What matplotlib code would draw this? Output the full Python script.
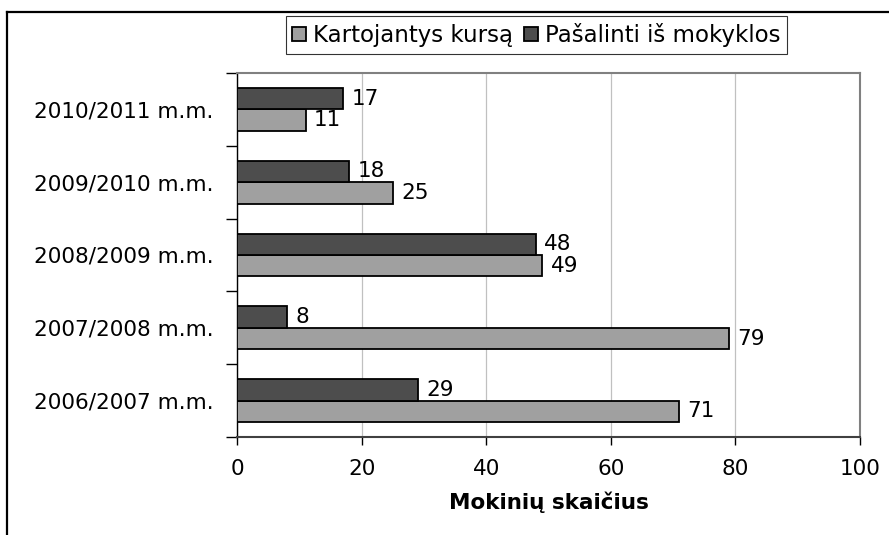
import matplotlib
matplotlib.use("Agg")
import matplotlib.pyplot as plt
from matplotlib.lines import Line2D
import numpy as np

categories = ["2006/2007 m.m.", "2007/2008 m.m.", "2008/2009 m.m.", "2009/2010 m.m.", "2010/2011 m.m."]
kartojantys = [71, 79, 49, 25, 11]
pasalinti = [29, 8, 48, 18, 17]
series_names = ["Kartojantys kursą", "Pašalinti iš mokyklos"]
xticks = [0, 20, 40, 60, 80, 100]

plt.rcParams['font.family'] = ['DejaVu Sans']
FS = 15.5

fig = plt.figure(figsize=(8.89, 5.35), dpi=100)
ax = fig.add_axes([237/889, 1-437/535, (860-237)/889, (437-73)/535])

y = np.arange(len(categories))
h = 0.295
b1 = ax.barh(y - h/2, kartojantys, height=h, color="#a0a0a0", edgecolor="black", linewidth=1.3, label=series_names[0], zorder=3)
b2 = ax.barh(y + h/2, pasalinti, height=h, color="#4d4d4d", edgecolor="black", linewidth=1.3, label=series_names[1], zorder=3)
ax.bar_label(b1, padding=6, fontsize=FS)
ax.bar_label(b2, padding=6, fontsize=FS)

ax.set_xlim(0, 100)
ax.set_ylim(-0.5, len(categories) - 0.5)
ax.set_xticks(xticks)
ax.set_xticklabels([str(t) for t in xticks], fontsize=FS)
ax.tick_params(axis='x', direction='out', length=6, width=1, pad=10)

ax.set_yticks(np.arange(-0.5, len(categories), 1.0))
ax.set_yticklabels([])
ax.tick_params(axis='y', which='major', direction='out', length=8, width=1)
ax.set_yticks(y, minor=True)
ax.set_yticklabels(categories, minor=True, fontsize=FS)
ax.tick_params(axis='y', which='minor', length=0, pad=17)

ax.grid(axis='x', color="#c0c0c0", linewidth=0.9, zorder=0)
ax.set_axisbelow(True)

ax.spines['left'].set_color('black')
ax.spines['left'].set_linewidth(1.0)
ax.spines['bottom'].set_color('#404040')
ax.spines['bottom'].set_linewidth(1.5)
for s in ['top', 'right']:
    ax.spines[s].set_color('#808080')
    ax.spines[s].set_linewidth(1.5)

ax.set_xlabel("Mokinių skaičius", fontsize=FS, fontweight='bold', labelpad=9)

leg = fig.legend(handles=[b1, b2], labels=series_names, loc='center', bbox_to_anchor=(536.5/889, 1-35/535),
                 ncol=2, fontsize=16.5, frameon=True, fancybox=False, shadow=False,
                 handlelength=0.6, handleheight=0.6, handletextpad=0.3, columnspacing=0.5,
                 borderpad=0.3, borderaxespad=0)
leg.get_frame().set_edgecolor('black')
leg.get_frame().set_linewidth(0.8)

# outer frame (top and left)
fig.add_artist(Line2D([7/889, 7/889], [0, 1-12/535], transform=fig.transFigure, color='black', linewidth=1.6))
fig.add_artist(Line2D([7/889, 1], [1-12/535, 1-12/535], transform=fig.transFigure, color='black', linewidth=1.6))

fig.savefig("out.png", dpi=100)
